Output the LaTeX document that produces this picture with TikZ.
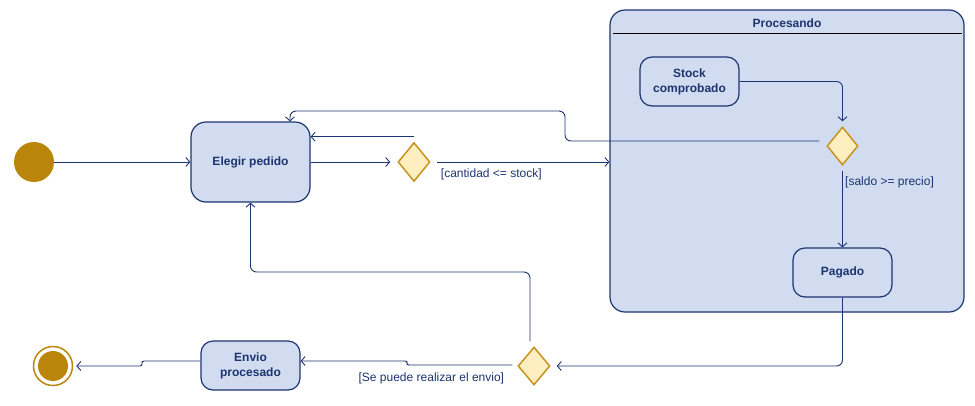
\documentclass[tikz,border=0pt]{standalone}
\usepackage{fontspec}
\setmainfont{Liberation Sans}
\usetikzlibrary{arrows.meta}
\usetikzlibrary{calc}
\usetikzlibrary{shapes.geometric}
\tikzset{>={Straight Barb[length=4pt,width=9pt]}}
\definecolor{navy}{RGB}{28,52,112}
\definecolor{statecol}{RGB}{209,220,240}
\definecolor{gold}{RGB}{185,134,11}
\definecolor{choicecol}{RGB}{255,238,192}
\definecolor{choiceline}{RGB}{198,148,30}
\tikzset{
  actstate/.style={draw=navy,fill=statecol,line width=1.2pt,rounded corners=12pt,
                   minimum width=99pt,minimum height=49pt,inner sep=2pt,align=center,
                   text=navy,font=\bfseries\fontsize{12}{15}\selectfont},
  group/.style={draw=navy,fill=statecol,line width=1.2pt,rounded corners=15pt,
                minimum width=354pt,minimum height=302pt},
  choice/.style={diamond,draw=choiceline,fill=choicecol,line width=1.5pt,
                 minimum width=32pt,minimum height=39pt,inner sep=0pt},
  start/.style={circle,fill=gold,minimum size=40pt,inner sep=0pt},
  finish/.style={circle,draw=gold,line width=1.5pt,fill=white,minimum size=39pt,inner sep=0pt},
  finishdot/.style={circle,fill=gold,minimum size=30pt,inner sep=0pt},
  flow/.style={draw=navy,line width=0.9pt,->,rounded corners=6pt},
  guard/.style={text=navy,font=\fontsize{12}{14}\selectfont,inner sep=0pt}
}

\begin{document}
\begin{tikzpicture}[x=1pt,y=-1pt]
  \useasboundingbox (0,0) rectangle (975,405);
  \coordinate (back) at (565,111);  % bend of return from payment check
  \coordinate (loop) at (400,272);  % bend of return from shipping check
  \coordinate (jog1) at (407,363);  % step before Envio
  \coordinate (jog2) at (142,363);  % step before end

  % STATES
  \node[start] (init) at (34,162) {};
  \node[actstate,minimum width=119pt,minimum height=80pt,rounded corners=15pt] (elegir) at (250.5,162) {Elegir pedido};
  \node[choice] (dec1) at (414,162) {};
  \node[group] (proc) at (787,161) {};
  \node[font=\bfseries\fontsize{12}{14}\selectfont,text=navy] (proctitle) at (787,23) {Procesando};
  \draw[black,line width=1.2pt] ($(proc.north west)+(4,24)$) -- ($(proc.north east)+(-3,24)$); % header
  \node[actstate] (stock) at (689.5,81.5) {Stock\\comprobado};
  \node[choice,minimum width=31pt,minimum height=38pt] (dec2) at (842.5,146) {};
  \node[actstate] (pagado) at (842.5,272.5) {Pagado};
  \node[choice,minimum height=38pt] (dec3) at (534,366) {};
  \node[actstate] (envio) at (250.5,365.5) {Envio\\procesado};
  \node[finish] (final) at (53,366) {};
  \node[finishdot] (finaldot) at (final) {};
  \coordinate (top1) at ($(dec1.north)+(0,-5)$); % start of return to Elegir

  % GUARDS
  \node[guard,anchor=west] (g1) at ($(dec1.east)+(10,12)$) {[cantidad <= stock]};
  \node[guard,anchor=west] (g2) at ($(dec2.south)+(2.5,16.5)$) {[saldo >= precio]};
  \node[guard,anchor=east] (g3) at ($(dec3.west)+(-13,12)$) {[Se puede realizar el envio]};

  % LINES
  \draw[flow] (init) -- (elegir);
  \draw[flow,shorten >=7pt] (elegir.east) -- (dec1.west);
  \draw[flow,shorten <=6pt] (dec1.east) -- (dec1.east -| proc.west);
  \draw[flow] (top1) -- (top1 -| elegir.east); % back to choose
  \draw[flow] ($(dec2.west)+(-7,-5)$) -| (back) -| ($(elegir.north)+(39.5,0)$);
  \draw[flow,shorten >=5pt] (stock.east) -| (dec2.north);
  \draw[flow,shorten <=5pt] (dec2.south) -- (pagado.north);
  \draw[flow,shorten >=6pt] (pagado.south) |- (dec3.east);
  \draw[flow] ($(dec3.north)+(-4,-5)$) |- (loop) -| (elegir.south);
  \draw[flow,rounded corners=2pt] ($(dec3.west)+(-5,-1)$) -| (jog1) |- ($(envio.east)+(0,-4.5)$);
  \draw[flow,rounded corners=2pt,shorten >=3pt] ($(envio.west)+(0,-4.5)$) -| (jog2) |- (final.east);
\end{tikzpicture}
\end{document}
